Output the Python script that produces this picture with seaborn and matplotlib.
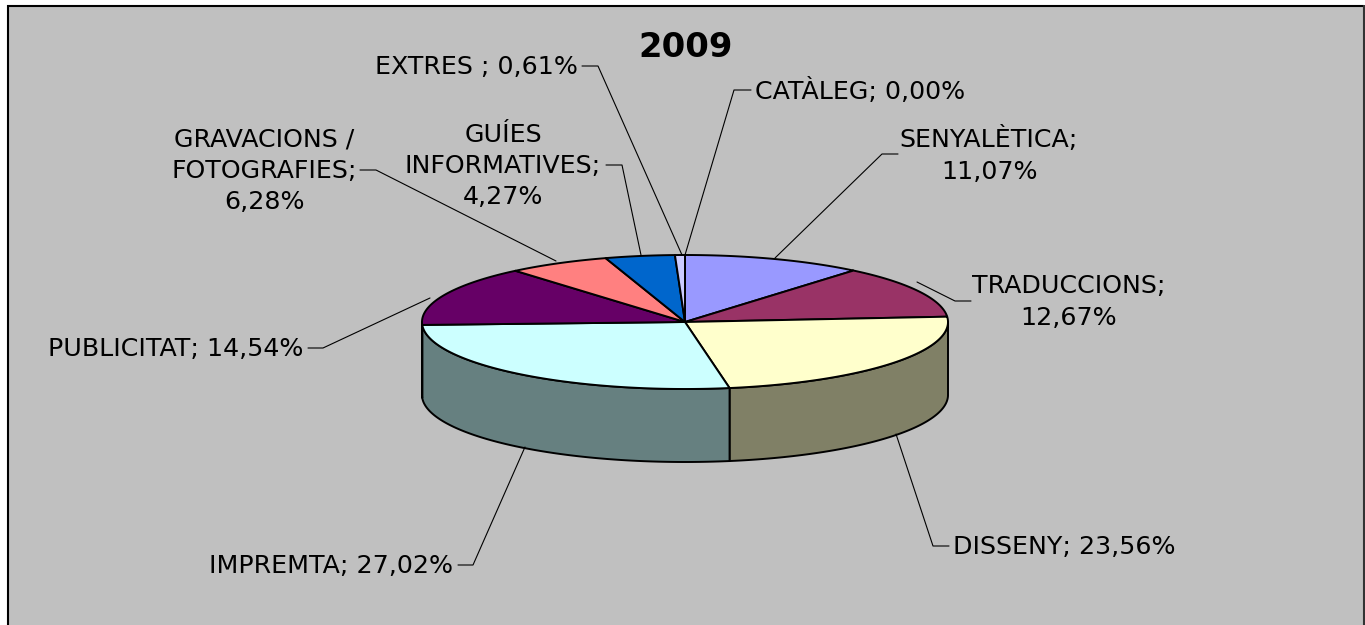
import numpy as np
import matplotlib
matplotlib.use("Agg")
import matplotlib.pyplot as plt
from matplotlib.patches import Polygon, Rectangle
import seaborn as sns

categories = ["CATÀLEG", "SENYALÈTICA", "TRADUCCIONS", "DISSENY", "IMPREMTA",
              "PUBLICITAT", "GRAVACIONS", "GUÍES", "EXTRES"]
values = [0.00, 11.07, 12.67, 23.56, 27.02, 14.54, 6.28, 4.27, 0.61]
colors = ["#CCCCFF", "#9999FF", "#993366", "#FFFFCC", "#CCFFFF",
          "#660066", "#FF8080", "#0066CC", "#CCCCFF"]
side_colors = ["#666680", "#4D4D80", "#4D1A33", "#808066", "#668080",
               "#330033", "#804040", "#003366", "#666680"]
labels = ["CATÀLEG; 0,00%", "SENYALÈTICA;\n11,07%", "TRADUCCIONS;\n12,67%",
          "DISSENY; 23,56%", "IMPREMTA; 27,02%", "PUBLICITAT; 14,54%",
          "GRAVACIONS /\nFOTOGRAFIES;\n6,28%", "GUÍES\nINFORMATIVES;\n4,27%",
          "EXTRES ; 0,61%"]
title = "2009"

sns.set_theme(style="white")
plt.rcParams["font.family"] = ["DejaVu Sans"]

W, H = 1365, 625
fig = plt.figure(figsize=(W / 100, H / 100), dpi=100, facecolor="white")
ax = fig.add_axes([0, 0, 1, 1])
ax.set_xlim(0, W)
ax.set_ylim(H, 0)
ax.axis("off")

ax.add_patch(Rectangle((8, 5), 1355, 640, fc="#C0C0C0", ec="none", zorder=0))
ax.plot([8, 8], [5, H], color="black", lw=1.5, zorder=1, solid_capstyle="butt")
ax.plot([7, 1364], [5.5, 5.5], color="black", lw=1.5, zorder=1, solid_capstyle="butt")
ax.plot([1364, 1364], [5, H], color="#333333", lw=1.5, zorder=1, solid_capstyle="butt")

CX, CY, RX, RY, DEPTH = 685, 322, 263, 67, 73
edges = np.cumsum([0] + values) / sum(values) * 2 * np.pi


def rim(a0, a1, n=120):
    t = np.linspace(a0, a1, n)
    return np.c_[CX + RX * np.sin(t), CY - RY * np.cos(t)]


# side walls
for i in range(len(values)):
    a0, a1 = max(edges[i], np.pi / 2), min(edges[i + 1], 3 * np.pi / 2)
    if a1 <= a0:
        continue
    top = rim(a0, a1)
    wall = np.r_[top, (top + [0, DEPTH])[::-1]]
    ax.add_patch(Polygon(wall, closed=True, fc=side_colors[i], ec="black", lw=1.4, zorder=2, joinstyle="round"))

# top faces
for i in range(len(values)):
    if values[i] <= 0:
        continue
    pts = np.r_[[[CX, CY]], rim(edges[i], edges[i + 1])]
    ax.add_patch(Polygon(pts, closed=True, fc=colors[i], ec="black", lw=1.4, zorder=3, joinstyle="round"))

ax.text(686, 47.5, title, ha="center", va="center", fontsize=24.4, fontweight="bold", color="black", zorder=5)

# label: text position, alignment, leader polyline
FS = 18.2
layout = {
    0: ((755, 91), "left", [(751, 90), (734, 90), (685, 255)]),
    1: ((989, 155), "center", [(898, 154), (882, 154), (775, 258)]),
    2: ((1069, 302), "center", [(971, 301), (955, 301), (917, 282)]),
    3: ((953, 547), "left", [(949, 546), (933, 546), (896, 434)]),
    4: ((453, 566), "right", [(458, 565), (473, 565), (525, 447)]),
    5: ((303, 349), "right", [(308, 348), (323, 348), (430, 298)]),
    6: ((264, 171), "center", [(360, 170), (376, 170), (556, 261)]),
    7: ((503, 166), "center", [(606, 165), (622, 165), (641, 255)]),
    8: ((578, 67), "right", [(582, 66), (598, 66), (682, 255)]),
}
for i, lab in enumerate(labels):
    (x, y), ha, line = layout[i]
    ax.text(x, y, lab, ha=ha, va="center", fontsize=FS, color="black", linespacing=1.38,
            multialignment="center", zorder=5)
    xs, ys = zip(*line)
    ax.plot(xs, ys, color="black", lw=0.8, zorder=4)

fig.savefig("out.png", dpi=100, facecolor=fig.get_facecolor())
